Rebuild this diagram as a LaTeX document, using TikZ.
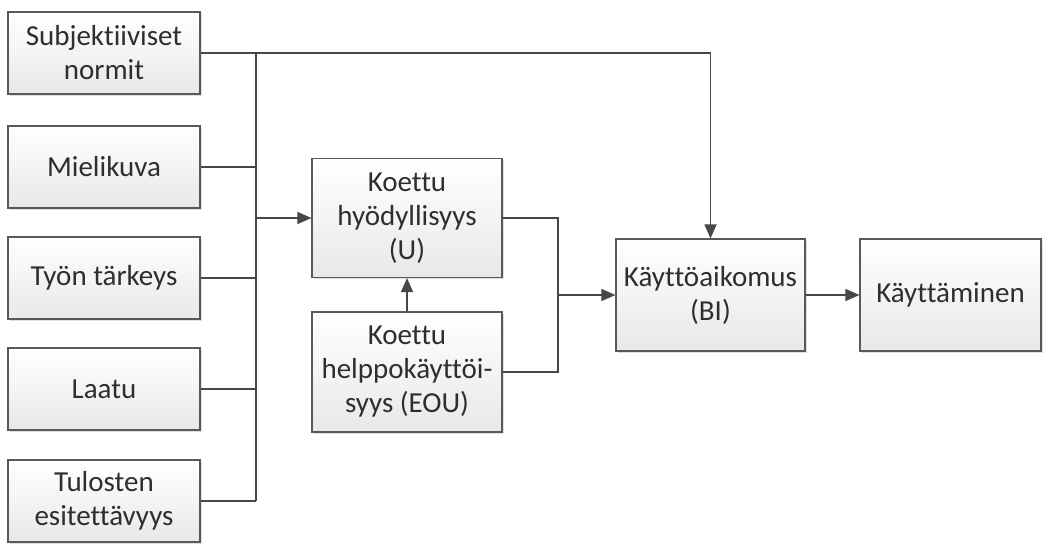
\documentclass[tikz,border=0pt]{standalone}
\usepackage{fontspec}
\setmainfont{Carlito}[Ligatures=NoCommon]
\usetikzlibrary{arrows.meta,shadows}

\begin{document}
\begin{tikzpicture}[x=1pt,y=-1pt,
box/.style={draw=black!65, line width=1.1pt, top color=white, bottom color=black!9,
  drop shadow={shadow xshift=1.5pt, shadow yshift=-1.5pt, fill=black!25},
  align=center, inner sep=0pt, text=black!82,
  font=\fontsize{29}{34}\selectfont},
leftbox/.style={box, minimum width=192pt, minimum height=82pt},
line/.style={draw=black!72, line width=1.2pt},
arrow/.style={line, -{Triangle[length=14pt,width=12pt]}}]

\useasboundingbox (0,0) rectangle (1043,543);

% Tekijat
\node[leftbox] (sn) at (104,53) {Subjektiiviset\\normit};
\node[leftbox] (mk) at (104,167) {Mielikuva};
\node[leftbox] (tt) at (104,278) {Työn tärkeys};
\node[leftbox] (la) at (104,389) {Laatu};
\node[leftbox] (te) at (104,501) {Tulosten\\esitettävyys};

% TAM
\node[box, minimum width=190pt, minimum height=119pt] (u) at (407,218) {Koettu\\hyödyllisyys\\(U)};
\node[box, minimum width=190pt, minimum height=120pt] (eou) at (407,372) {Koettu\\helppokäyttöi-\\syys (EOU)};
\node[box, minimum width=189pt, minimum height=112pt] (bi) at (710.5,295) {Käyttöaikomus\\(BI)};
\node[box, minimum width=181pt, minimum height=112pt] (kt) at (950.5,295) {Käyttäminen};

\coordinate (bus) at (256,0);
\coordinate (join) at (558,295);

% Kokoojaviiva
\draw[line] (sn.east -| bus) -- (te.east -| bus);
\foreach \n in {mk,tt,la,te}
  \draw[line] (\n.east) -- (\n.east -| bus);
\draw[arrow] (sn.east) -| (bi.north);
\draw[arrow] (u.west -| bus) -- (u.west);

\draw[arrow] (eou.north) -- (u.south);
\draw[line] (u.east) -| (join);
\draw[line] (eou.east) -| (join);
\draw[arrow] (join) -- (bi.west);
\draw[arrow] (bi.east) -- (kt.west);

\end{tikzpicture}
\end{document}
